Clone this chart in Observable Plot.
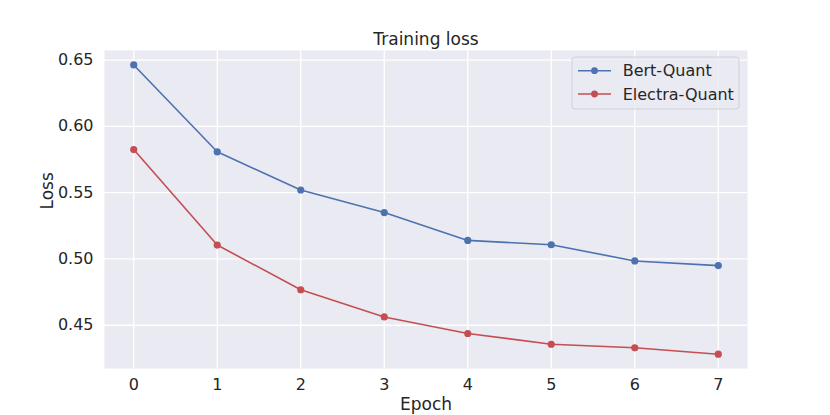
<!DOCTYPE html>
<html>
<head>
<meta charset="utf-8">
<script src="https://cdn.jsdelivr.net/npm/d3@7"></script>
<script src="https://cdn.jsdelivr.net/npm/@observablehq/plot@0.6"></script>
<style>
  html, body { margin: 0; padding: 0; background: #ffffff; }
  #chart svg { display: block; }
</style>
</head>
<body>
<div id="chart"></div>
<script>
const epochs = [0, 1, 2, 3, 4, 5, 6, 7];
const bertQuant = [0.6463, 0.5808, 0.5520, 0.5350, 0.5140, 0.5107, 0.4985, 0.4950];
const electraQuant = [0.5825, 0.5105, 0.4768, 0.4563, 0.4438, 0.4357, 0.4330, 0.4282];
const seriesNames = ["Bert-Quant", "Electra-Quant"];
const seriesColors = ["#4C72B0", "#C44E52"];
const yTicks = [0.45, 0.50, 0.55, 0.60, 0.65];
const xTicks = epochs;
const titleText = "Training loss";
const xLabel = "Epoch";
const yLabel = "Loss";

const rows = [];
[bertQuant, electraQuant].forEach((vals, s) => {
  vals.forEach((v, i) => rows.push({epoch: epochs[i], loss: v, series: seriesNames[s]}));
});

const W = 830, H = 415;
const mL = 104, mR = 83, mT = 50, mB = 47;
const font = "'DejaVu Sans', sans-serif";
const ink = "#262626";

const chart = Plot.plot({
  width: W,
  height: H,
  marginLeft: mL,
  marginRight: mR,
  marginTop: mT,
  marginBottom: mB,
  style: {fontFamily: font, color: ink, background: "#ffffff"},
  x: {domain: [-0.35, 7.35], ticks: xTicks},
  y: {domain: [0.4174, 0.6572], ticks: yTicks},
  color: {domain: seriesNames, range: seriesColors},
  marks: [
    Plot.frame({fill: "#EAEAF2", stroke: null}),
    Plot.gridX(xTicks, {stroke: "#ffffff", strokeOpacity: 1, strokeWidth: 1.3}),
    Plot.gridY(yTicks, {stroke: "#ffffff", strokeOpacity: 1, strokeWidth: 1.3}),
    Plot.axisX(xTicks, {tickSize: 0, tickPadding: 10, fontSize: 16, label: null, fill: ink}),
    Plot.axisY(yTicks, {tickSize: 0, tickPadding: 11, fontSize: 16, label: null, tickFormat: d3.format(".2f"), fill: ink}),
    Plot.line(rows, {x: "epoch", y: "loss", z: "series", stroke: "series", strokeWidth: 1.6}),
    Plot.dot(rows, {x: "epoch", y: "loss", fill: "series", r: 3.6}),
    Plot.text([titleText], {frameAnchor: "top", lineAnchor: "middle", dy: -11, fontSize: 17, fill: ink}),
    Plot.text([xLabel], {frameAnchor: "bottom", lineAnchor: "middle", dy: 36, fontSize: 17, fill: ink}),
    Plot.text([yLabel], {frameAnchor: "left", lineAnchor: "middle", dx: -57, rotate: -90, fontSize: 17, fill: ink})
  ]
});

// Legend (matplotlib-style, upper right inside axes)
const svg = d3.select(chart);
const lgX = W - mR - 175, lgY = mT + 7, lgW = 167, lgH = 52;
const lg = svg.append("g");
lg.append("rect")
  .attr("x", lgX).attr("y", lgY).attr("width", lgW).attr("height", lgH)
  .attr("rx", 3).attr("fill", "#EAEAF2").attr("fill-opacity", 0.8)
  .attr("stroke", "#d0d0d8").attr("stroke-width", 1);
seriesNames.forEach((name, i) => {
  const cy = lgY + 13.7 + i * 23.3;
  lg.append("line").attr("x1", lgX + 6).attr("x2", lgX + 39).attr("y1", cy).attr("y2", cy)
    .attr("stroke", seriesColors[i]).attr("stroke-width", 1.6);
  lg.append("circle").attr("cx", lgX + 22.5).attr("cy", cy).attr("r", 3.4).attr("fill", seriesColors[i]);
  lg.append("text").attr("x", lgX + 50.7).attr("y", cy).attr("dy", "0.35em")
    .attr("text-anchor", "start")
    .attr("font-family", font).attr("font-size", 16).attr("fill", ink).text(name);
});

document.getElementById("chart").appendChild(chart);
</script>
</body>
</html>
